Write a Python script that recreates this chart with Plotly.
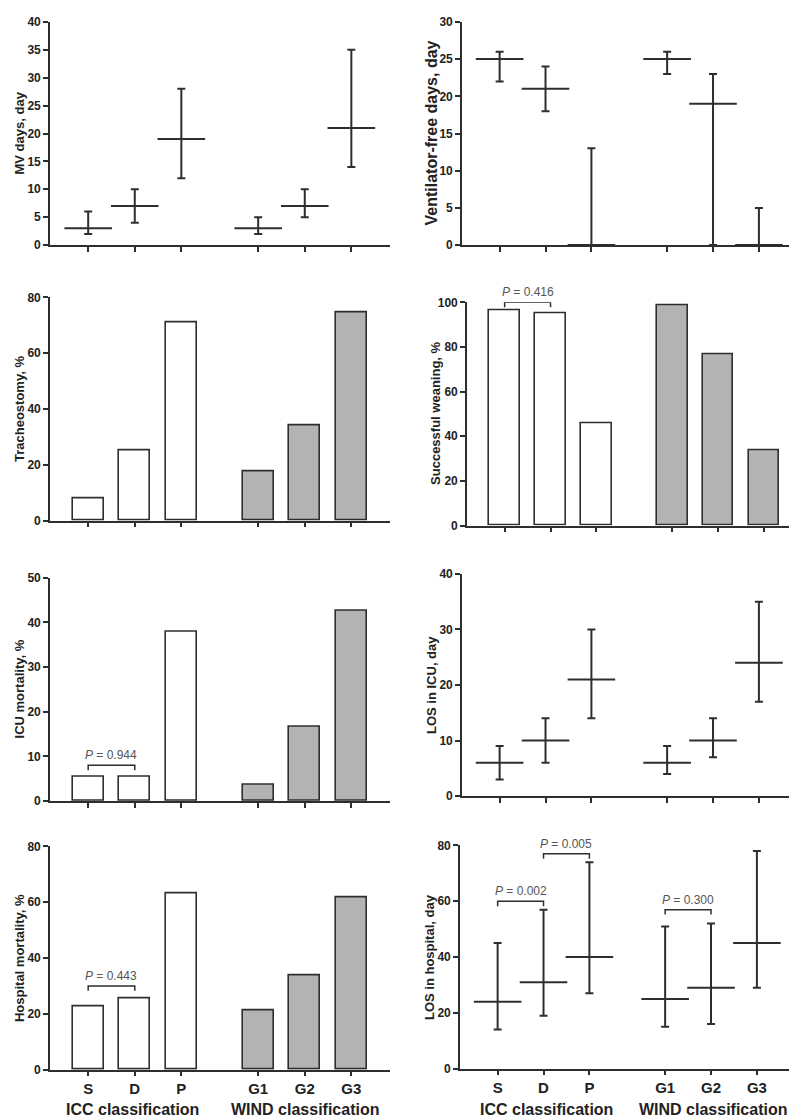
import plotly.graph_objects as go
from plotly.subplots import make_subplots

categories = ["S", "D", "P", "G1", "G2", "G3"]

# median [q1, q3]
mv_median = [3, 7, 19, 3, 7, 21]
mv_q1 = [2, 4, 12, 2, 5, 14]
mv_q3 = [6, 10, 28, 5, 10, 35]

vfd_median = [25, 21, 0, 25, 19, 0]
vfd_q1 = [22, 18, 0, 23, 0, 0]
vfd_q3 = [26, 24, 13, 26, 23, 5]

los_icu_median = [6, 10, 21, 6, 10, 24]
los_icu_q1 = [3, 6, 14, 4, 7, 17]
los_icu_q3 = [9, 14, 30, 9, 14, 35]

los_hosp_median = [24, 31, 40, 25, 29, 45]
los_hosp_q1 = [14, 19, 27, 15, 16, 29]
los_hosp_q3 = [45, 57, 74, 51, 52, 78]

# percentages
trach_pct = [7.8, 25.3, 71.2, 17.6, 34.2, 74.5]
weaning_pct = [96.3, 95.0, 45.9, 98.5, 76.9, 33.6]
icu_mort_pct = [5.4, 5.5, 38.0, 3.6, 16.7, 42.5]
hosp_mort_pct = [22.5, 25.4, 63.3, 21.1, 33.9, 61.8]

# p-value brackets: (from, to, level, text)
weaning_p = [("S", "D", 100, "0.416")]
icu_mort_p = [("S", "D", 8, "0.944")]
hosp_mort_p = [("S", "D", 30, "0.443")]
los_hosp_p = [("S", "D", 60, "0.002"), ("D", "P", 77, "0.005"), ("G1", "G2", 57, "0.300")]

W, H = 797, 1119
INK = "#2e2e2e"
GRAY = "#b3b3b3"
FONT = "Liberation Sans"

xpos = [i + (0.65 if i >= 3 else 0) for i in range(len(categories))]
pos = dict(zip(categories, xpos))
fills = ["white"] * 3 + [GRAY] * 3

fig = make_subplots(rows=4, cols=2)

# (row, col, kind, data, ytitle, title size, ymax, dtick, brackets, x px domain, y px domain)
panels = [
    (1, 1, "iqr", (mv_median, mv_q1, mv_q3), "MV days, day", 13, 40, 5, [], (42, 382), (7, 233)),
    (1, 2, "iqr", (vfd_median, vfd_q1, vfd_q3), "Ventilator-free days, day", 16, 30, 5, [], (454, 789), (7, 233)),
    (2, 1, "bar", trach_pct, "Tracheostomy, %", 13, 80, 20, [], (42, 382), (286, 512)),
    (2, 2, "bar", weaning_pct, "Successful weaning, %", 13, 100, 20, weaning_p, (459, 794), (291, 517)),
    (3, 1, "bar", icu_mort_pct, "ICU mortality, %", 13, 50, 10, icu_mort_p, (42, 382), (570, 796)),
    (3, 2, "iqr", (los_icu_median, los_icu_q1, los_icu_q3), "LOS in ICU, day", 13, 40, 10, [], (454, 789), (566, 791)),
    (4, 1, "bar", hosp_mort_pct, "Hospital mortality, %", 13, 80, 20, hosp_mort_p, (42, 382), (842, 1068)),
    (4, 2, "iqr", (los_hosp_median, los_hosp_q1, los_hosp_q3), "LOS in hospital, day", 13, 80, 20, los_hosp_p, (452, 787), (841, 1067)),
]

annotations = []
for n, (r, c, kind, data, ytitle, tsize, ymax, dtick, brackets, xd, yd) in enumerate(panels, start=1):
    if kind == "bar":
        fig.add_trace(go.Bar(x=xpos, y=data, width=0.67, marker=dict(color=fills, line=dict(color=INK, width=1.6)),
                             showlegend=False), row=r, col=c)
    else:
        med, q1, q3 = data
        fig.add_trace(go.Scatter(
            x=xpos, y=med, mode="markers", showlegend=False, cliponaxis=False,
            marker=dict(symbol="line-ew", size=34, line=dict(color=INK, width=2)),
            error_y=dict(type="data", symmetric=False,
                         array=[b - m for m, b in zip(med, q3)],
                         arrayminus=[m - a for m, a in zip(med, q1)],
                         color=INK, thickness=2, width=4)), row=r, col=c)

    span = ymax * 0.022
    for a, b, lvl, txt in brackets:
        fig.add_trace(go.Scatter(x=[pos[a], pos[a], pos[b], pos[b]], y=[lvl - span, lvl, lvl, lvl - span],
                                 mode="lines", line=dict(color=INK, width=1.5), showlegend=False,
                                 cliponaxis=False, hoverinfo="skip"), row=r, col=c)
        annotations.append(dict(x=(pos[a] + pos[b]) / 2, y=lvl, xref=f"x{n}", yref=f"y{n}",
                                text=f"<i>P</i> = {txt}", showarrow=False, xanchor="center",
                                yanchor="bottom", yshift=1,
                                font=dict(family=FONT, size=12, color="#555")))

    x0, x1 = xd
    y0, y1 = yd
    fig.layout[f"xaxis{n}"].update(
        domain=[x0 / W, x1 / W], range=[-0.82, 6.48], showgrid=False, zeroline=False,
        showline=True, linecolor=INK, linewidth=1.6, ticks="outside", ticklen=5, tickwidth=1.5,
        tickcolor=INK, tickvals=xpos, ticktext=categories if r == 4 else [""] * 6,
        tickfont=dict(family=FONT, size=15, color="#222", weight="bold"))
    fig.layout[f"yaxis{n}"].update(
        domain=[1 - y1 / H, 1 - y0 / H], range=[0, ymax], dtick=dtick, showgrid=False, zeroline=False,
        showline=True, linecolor=INK, linewidth=1.6, ticks="outside", ticklen=5, tickwidth=1.5,
        tickcolor=INK, tickfont=dict(family=FONT, size=12, color="#222", weight="bold"))
    annotations.append(dict(x=(x0 - 31) / W, y=1 - (y0 + y1) / 2 / H, xref="paper", yref="paper",
                            text=ytitle, textangle=-90, showarrow=False, xanchor="center", yanchor="middle",
                            font=dict(family=FONT, size=tsize, color="#222", weight="bold")))

# group labels under the bottom row
for cx_icc, cx_wind in [(124, 297), (538, 705)]:
    for cx, txt in [(cx_icc, "ICC classification"), (cx_wind, "WIND classification")]:
        annotations.append(dict(x=cx / W, y=1 - 1108 / H, xref="paper", yref="paper", text=txt,
                                showarrow=False, xanchor="center", yanchor="middle",
                                font=dict(family=FONT, size=16, color="#222", weight="bold")))

fig.update_layout(width=W, height=H, margin=dict(l=0, r=0, t=0, b=0), plot_bgcolor="white",
                  paper_bgcolor="white", bargap=0, annotations=annotations)

fig.write_html("out.html")
